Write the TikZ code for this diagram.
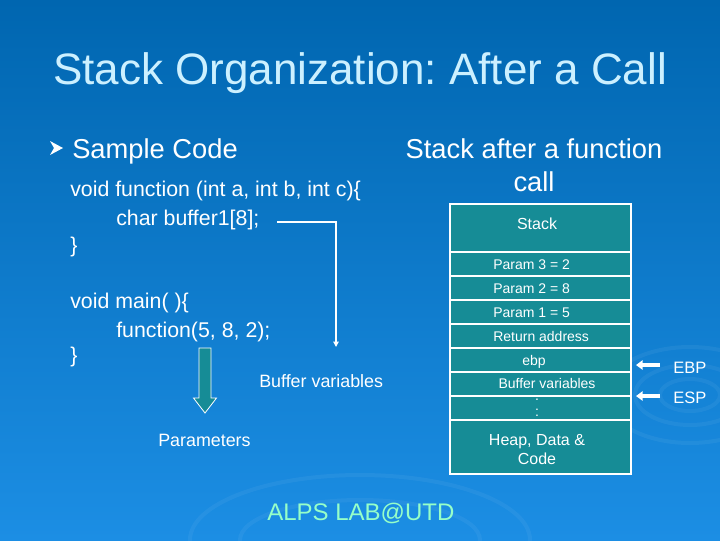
\documentclass[tikz,border=0pt]{standalone}
\usepackage{fontspec}
\setmainfont{Liberation Sans}
\usetikzlibrary{arrows.meta}
\definecolor{bgtop}{RGB}{0,102,176}
\definecolor{bgbot}{RGB}{28,142,228}
\definecolor{cellfill}{RGB}{22,140,150}
\definecolor{titlecol}{RGB}{204,240,255}
\definecolor{labcol}{RGB}{150,255,200}
\frenchspacing
\begin{document}
\begin{tikzpicture}[x=0.75pt,y=-0.75pt,
  txt/.style={text=white, inner sep=0pt},
  codetxt/.style={txt, anchor=base west, font=\fontsize{16}{19}\selectfont},
  celltxt/.style={txt, font=\fontsize{10.5}{12}\selectfont},
  bigcelltxt/.style={txt, font=\fontsize{12}{14.5}\selectfont},
  cell/.style={draw=white, line width=0.8pt, fill=cellfill, minimum width=135.75pt, inner sep=0pt},
  regarrow/.style={draw=white, line width=2.4pt, -{Triangle[length=5pt,width=7pt]}},
  codearrow/.style={draw=white, line width=0.9pt, -{Triangle[length=4pt,width=4pt]}}]
% background
\shade[top color=bgtop, bottom color=bgbot] (0,0) rectangle (720,540);
\useasboundingbox (0,0) rectangle (720,540);
% faint ripples
\begin{scope}[draw=white, opacity=0.05, line width=3pt]
\draw (690,395) ellipse (30 and 16);
\draw (690,395) ellipse (55 and 30);
\draw (690,395) ellipse (85 and 48);
\draw (360,540) ellipse (120 and 40);
\draw (360,540) ellipse (170 and 65);
\end{scope}
% title
\node[inner sep=0pt, anchor=base, text=titlecol, font=\fontsize{33}{38}\selectfont] (title) at (360,84) {Stack Organization: After a Call};
% bullet and headings
\fill[white] (50,141) -- (63,148) -- (50,155) -- (54,148) -- cycle;
\node[txt, anchor=base west, font=\fontsize{20.5}{24}\selectfont] (sample) at (72,158) {Sample Code};
\node[txt, anchor=base, font=\fontsize{20.5}{24}\selectfont] (sah1) at (534,158) {Stack after a function};
\node[txt, anchor=base, font=\fontsize{20.5}{24}\selectfont] (sah2) at (534,191) {call};
% code
\node[codetxt] (c1) at (70,196) {void function (int a, int b, int c)\{};
\node[codetxt] (c2) at (116,225) {char buffer1[8];};
\node[codetxt] (c3) at (70,252) {\}};
\node[codetxt] (c4) at (70,308) {void main( )\{};
\node[codetxt] (c5) at (116,337) {function(5, 8, 2);};
\node[codetxt] (c6) at (70,362) {\}};
% buffer variables arrow
\coordinate (bstart) at (277,222);
\coordinate (bcorner) at (336,222);
\coordinate (bend) at (336,347);
\draw[codearrow] (bstart) -- (bcorner) -- (bend);
\node[txt, anchor=base west, font=\fontsize{13.4}{16}\selectfont] (bufl) at (259,387) {Buffer variables};
% parameters arrow
\filldraw[fill=cellfill, draw=white, line width=0.6pt]
  (199,348) -- (211,348) -- (211,398) -- (216.5,398) -- (205,413) -- (193.5,398) -- (199,398) -- cycle;
\node[txt, anchor=base west, font=\fontsize{13.4}{16}\selectfont] (params) at (158,446) {Parameters};
% stack cells
\node[cell, minimum height=36pt] (sStack) at (540.5,228) {};
\node[cell, minimum height=18pt] (sP3) at (540.5,264) {};
\node[cell, minimum height=18pt] (sP2) at (540.5,288) {};
\node[cell, minimum height=18pt] (sP1) at (540.5,312) {};
\node[cell, minimum height=18pt] (sRet) at (540.5,336) {};
\node[cell, minimum height=18pt] (sEbp) at (540.5,360) {};
\node[cell, minimum height=18pt] (sBuf) at (540.5,384) {};
\node[cell, minimum height=18pt] (sDots) at (540.5,408) {};
\node[cell, minimum height=40.5pt] (sHeap) at (540.5,447) {};
% cell texts
\node[bigcelltxt, anchor=base] (tStack) at (537,229) {Stack};
\node[celltxt, anchor=base west] (tP3) at (493,269) {Param 3 = 2};
\node[celltxt, anchor=base west] (tP2) at (493,293) {Param 2 = 8};
\node[celltxt, anchor=base west] (tP1) at (493,317) {Param 1 = 5};
\node[celltxt, anchor=base west] (tRet) at (493,341) {Return address};
\node[celltxt, anchor=base] (tEbp) at (534,365) {ebp};
\node[celltxt, anchor=base] (tBuf) at (547,388) {Buffer variables};
\node[celltxt, anchor=base] (tDot) at (537,400) {.};
\node[celltxt, anchor=base] (tDots) at (537,416) {:};
\node[bigcelltxt, anchor=base] (tHeap1) at (537,445) {Heap, Data \&};
\node[bigcelltxt, anchor=base] (tHeap2) at (537,464) {Code};
% EBP / ESP
\node[txt, anchor=base west, font=\fontsize{12.4}{15}\selectfont] (EBP) at (673,373) {EBP};
\node[txt, anchor=base west, font=\fontsize{12.4}{15}\selectfont] (ESP) at (673,403) {ESP};
\coordinate (ebpTail) at (660,365);
\coordinate (ebpHead) at (636,365);
\coordinate (espTail) at (660,396);
\coordinate (espHead) at (636,396);
\draw[regarrow] (ebpTail) -- (ebpHead);
\draw[regarrow] (espTail) -- (espHead);
% footer
\node[inner sep=0pt, anchor=base west, text=labcol, font=\fontsize{18}{21}\selectfont] (lab) at (267,520) {ALPS LAB@UTD};
\end{tikzpicture}
\end{document}
